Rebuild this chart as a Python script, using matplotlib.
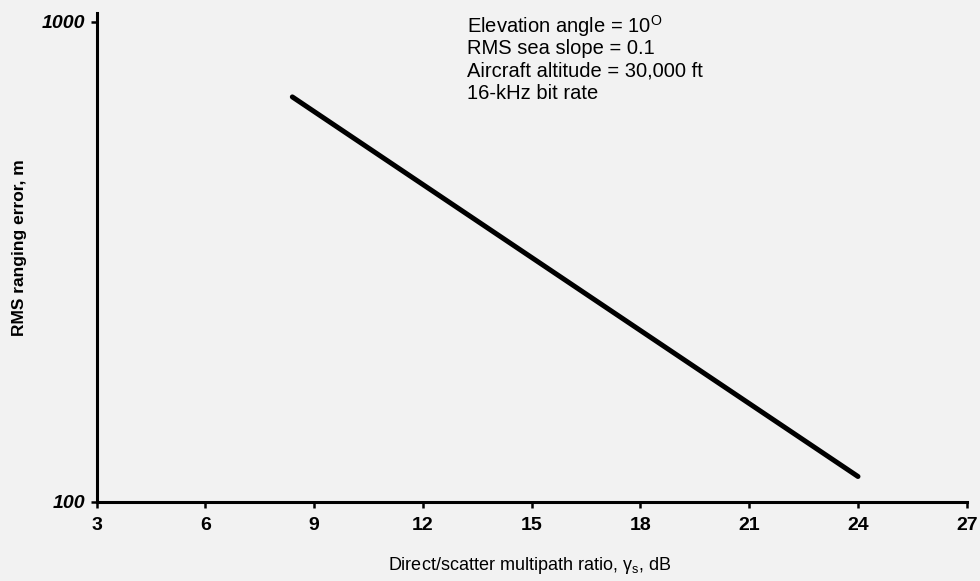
import numpy as np
import matplotlib.pyplot as plt

plt.rcParams['font.family'] = ['Liberation Sans', 'DejaVu Sans']
plt.rcParams['mathtext.fontset'] = 'custom'
plt.rcParams['mathtext.rm'] = 'Liberation Sans'

ratio_db = [8.4, 24.0]
rms_error_m = [698, 113]
x_ticks = [3, 6, 9, 12, 15, 18, 21, 24, 27]
y_ticks = [100, 1000]
notes = ['Elevation angle = 10$^{\\mathrm{O}}$',
         'RMS sea slope = 0.1',
         'Aircraft altitude = 30,000 ft',
         '16-kHz bit rate']

bg = '#f2f2f2'
fig = plt.figure(figsize=(9.8, 5.81), dpi=100, facecolor=bg)
ax = fig.add_axes([0.0985, 0.136, 0.888, 0.842])
ax.set_facecolor(bg)

ax.plot(ratio_db, rms_error_m, color='black', lw=3.6, solid_capstyle='round')

ax.set_yscale('log')
ax.set_ylim(100, 1045)
ax.set_xlim(3, 27)
ax.set_xticks(x_ticks)
ax.set_xticklabels([str(t) for t in x_ticks], fontsize=14, fontweight='bold')
ax.set_yticks(y_ticks)
ax.set_yticklabels(['100', '1000'], fontsize=14, fontweight='bold', style='italic')
ax.yaxis.set_minor_locator(plt.NullLocator())
ax.tick_params(axis='both', direction='out', length=4, width=1.8, color='black')
ax.tick_params(axis='x', pad=7)
ax.tick_params(axis='y', pad=4)

for side in ['top', 'right']:
    ax.spines[side].set_visible(False)
for side in ['left', 'bottom']:
    ax.spines[side].set_linewidth(2.2)

fig.text(0.54, 1 - 566 / 581, 'Direct/scatter multipath ratio, γ$_{\\mathrm{s}}$, dB',
         fontsize=13, ha='center', va='center')
fig.text(0.02, 1 - 248 / 581, 'RMS ranging error, m', rotation=90, fontsize=12.5,
         fontweight='bold', ha='center', va='center')

for i, line in enumerate(notes):
    fig.text(0.477, 1 - (26 + 22.5 * i) / 581, line, fontsize=14.5, ha='left', va='center')

fig.savefig('out.png', dpi=100, facecolor=bg)
